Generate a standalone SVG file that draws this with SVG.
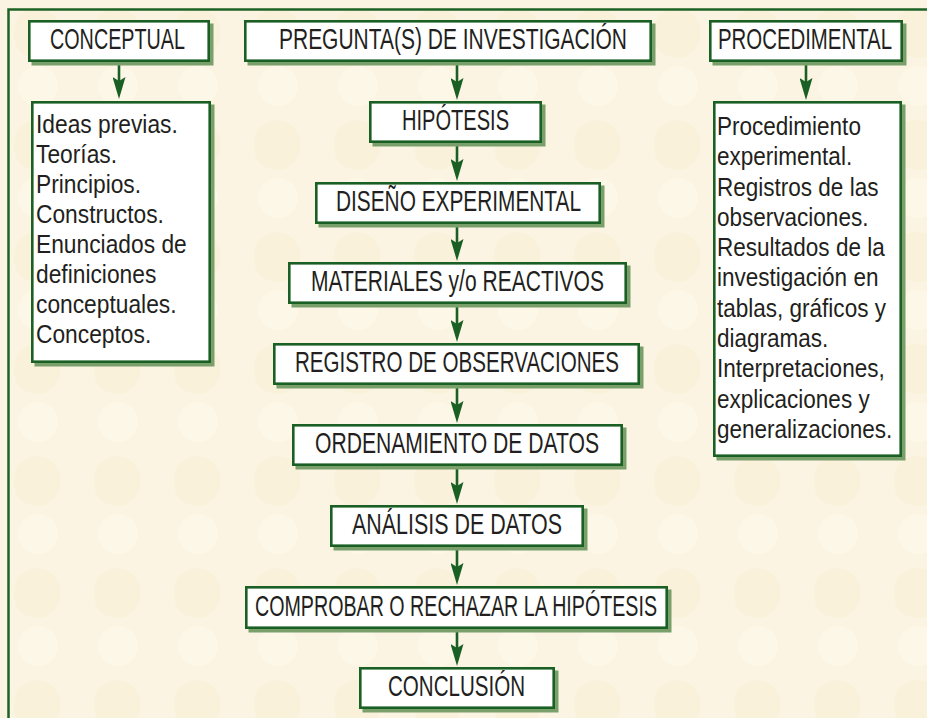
<svg xmlns="http://www.w3.org/2000/svg" width="927" height="718" viewBox="0 0 927 718">
<style>
.bg{fill:#fcf4e2}
.frame{fill:none;stroke:#1d6326;stroke-width:2.5}
.sh{fill:#79a06b}
.box{fill:#ffffff;stroke:#1a6024;stroke-width:2.6}
.t{font-family:"Liberation Sans",Arial,sans-serif;font-size:29px;fill:#231f20}
.b{font-family:"Liberation Sans",Arial,sans-serif;font-size:26.5px;fill:#231f20}
.c{stroke:#1a6024;stroke-width:2.6;fill:none}
</style>
<defs>
<marker id="ah" viewBox="0 0 22 13" markerWidth="22" markerHeight="13" refX="14" refY="6.5" orient="auto" markerUnits="userSpaceOnUse">
<path d="M0,0 L22,6.5 L0,13 L4,6.5 Z" fill="#1a6024"/>
</marker>
<pattern id="blobs" x="0" y="0" width="80" height="112" patternUnits="userSpaceOnUse">
<rect x="14" y="8" width="46" height="50" rx="22" fill="#f5e6c6" opacity="0.25"/>
<rect x="18" y="66" width="40" height="40" rx="20" fill="#fffaf0" opacity="0.35"/>
</pattern>
</defs>
<rect class="bg" x="0" y="0" width="927" height="718"/>
<rect x="0" y="0" width="927" height="718" fill="url(#blobs)"/>
<rect class="frame" x="8.5" y="9.5" width="1000" height="1000"/>

<g id="connectors">
<line class="c" x1="119" y1="62" x2="119" y2="91" marker-end="url(#ah)"/>
<line class="c" x1="806" y1="62" x2="806" y2="92" marker-end="url(#ah)"/>
<line class="c" x1="457" y1="62" x2="457" y2="92" marker-end="url(#ah)"/>
<line class="c" x1="457" y1="143" x2="457" y2="173" marker-end="url(#ah)"/>
<line class="c" x1="457" y1="224" x2="457" y2="253" marker-end="url(#ah)"/>
<line class="c" x1="457" y1="304" x2="457" y2="334" marker-end="url(#ah)"/>
<line class="c" x1="457" y1="385" x2="457" y2="415" marker-end="url(#ah)"/>
<line class="c" x1="457" y1="466" x2="457" y2="496" marker-end="url(#ah)"/>
<line class="c" x1="457" y1="547" x2="457" y2="577" marker-end="url(#ah)"/>
<line class="c" x1="457" y1="629" x2="457" y2="658" marker-end="url(#ah)"/>
</g>

<g id="conceptual">
<rect class="sh" x="31.5" y="23.5" width="182" height="42"/>
<rect class="box" x="29.3" y="21.3" width="179.4" height="39.4"/>
<text class="t" transform="translate(50 49) scale(0.68 1)" x="0" y="0" textLength="198.5" lengthAdjust="spacingAndGlyphs">CONCEPTUAL</text>
</g>

<g id="pregunta">
<rect class="sh" x="247.5" y="23.5" width="408" height="42"/>
<rect class="box" x="245.3" y="21.3" width="405.4" height="39.4"/>
<text class="t" transform="translate(279 49) scale(0.68 1)" x="0" y="0" textLength="511.8" lengthAdjust="spacingAndGlyphs">PREGUNTA(S) DE INVESTIGACIÓN</text>
</g>

<g id="procedimental">
<rect class="sh" x="712.5" y="23.5" width="194" height="42"/>
<rect class="box" x="710.3" y="21.3" width="191.4" height="39.4"/>
<text class="t" transform="translate(718 49) scale(0.68 1)" x="0" y="0" textLength="255.9" lengthAdjust="spacingAndGlyphs">PROCEDIMENTAL</text>
</g>

<g id="conceptual-list">
<rect class="sh" x="34.5" y="104.5" width="180" height="262"/>
<rect class="box" x="32.3" y="102.3" width="177.4" height="259.4"/>
<g transform="translate(36 0) scale(0.86 1)">
<text class="b" x="0" y="133"><tspan x="0">Ideas previas.</tspan><tspan x="0" dy="30">Teorías.</tspan><tspan x="0" dy="30">Principios.</tspan><tspan x="0" dy="30">Constructos.</tspan><tspan x="0" dy="30">Enunciados de</tspan><tspan x="0" dy="30">definiciones</tspan><tspan x="0" dy="30">conceptuales.</tspan><tspan x="0" dy="30">Conceptos.</tspan></text>
</g>
</g>

<g id="procedimental-list">
<rect class="sh" x="716.5" y="104.5" width="189" height="356"/>
<rect class="box" x="714.3" y="102.3" width="186.4" height="353.4"/>
<g transform="translate(717 0) scale(0.85 1)">
<text class="b" x="0" y="135"><tspan x="0">Procedimiento</tspan><tspan x="0" dy="30.3">experimental.</tspan><tspan x="0" dy="30.3">Registros de las</tspan><tspan x="0" dy="30.3">observaciones.</tspan><tspan x="0" dy="30.3">Resultados de la</tspan><tspan x="0" dy="30.3">investigación en</tspan><tspan x="0" dy="30.3">tablas, gráficos y</tspan><tspan x="0" dy="30.3">diagramas.</tspan><tspan x="0" dy="30.3">Interpretaciones,</tspan><tspan x="0" dy="30.3">explicaciones y</tspan><tspan x="0" dy="30.3">generalizaciones.</tspan></text>
</g>
</g>

<g id="hipotesis">
<rect class="sh" x="372.5" y="104.5" width="173" height="42"/>
<rect class="box" x="370.3" y="102.3" width="170.4" height="39.4"/>
<text class="t" transform="translate(402 130) scale(0.68 1)" x="0" y="0" textLength="157.4" lengthAdjust="spacingAndGlyphs">HIPÓTESIS</text>
</g>

<g id="diseno">
<rect class="sh" x="318.5" y="185.5" width="286" height="42"/>
<rect class="box" x="316.3" y="183.3" width="283.4" height="39.4"/>
<text class="t" transform="translate(336 211) scale(0.68 1)" x="0" y="0" textLength="360.3" lengthAdjust="spacingAndGlyphs">DISEÑO EXPERIMENTAL</text>
</g>

<g id="materiales">
<rect class="sh" x="291.5" y="265.5" width="339" height="42"/>
<rect class="box" x="289.3" y="263.3" width="336.4" height="39.4"/>
<text class="t" transform="translate(311 291) scale(0.68 1)" x="0" y="0" textLength="430.9" lengthAdjust="spacingAndGlyphs">MATERIALES y/o REACTIVOS</text>
</g>

<g id="registro">
<rect class="sh" x="276.5" y="346.5" width="367" height="42"/>
<rect class="box" x="274.3" y="344.3" width="364.4" height="39.4"/>
<text class="t" transform="translate(295 372) scale(0.68 1)" x="0" y="0" textLength="476.5" lengthAdjust="spacingAndGlyphs">REGISTRO DE OBSERVACIONES</text>
</g>

<g id="ordenamiento">
<rect class="sh" x="295.5" y="427.5" width="331" height="42"/>
<rect class="box" x="293.3" y="425.3" width="328.4" height="39.4"/>
<text class="t" transform="translate(315 453) scale(0.68 1)" x="0" y="0" textLength="417.6" lengthAdjust="spacingAndGlyphs">ORDENAMIENTO DE DATOS</text>
</g>

<g id="analisis">
<rect class="sh" x="333.5" y="508.5" width="254" height="42"/>
<rect class="box" x="331.3" y="506.3" width="251.4" height="39.4"/>
<text class="t" transform="translate(352 534) scale(0.68 1)" x="0" y="0" textLength="308.8" lengthAdjust="spacingAndGlyphs">ANÁLISIS DE DATOS</text>
</g>

<g id="comprobar">
<rect class="sh" x="248.5" y="589.5" width="423" height="43"/>
<rect class="box" x="246.3" y="587.3" width="420.4" height="40.4"/>
<text class="t" transform="translate(255 616) scale(0.68 1)" x="0" y="0" textLength="591.2" lengthAdjust="spacingAndGlyphs">COMPROBAR O RECHAZAR LA HIPÓTESIS</text>
</g>

<g id="conclusion">
<rect class="sh" x="362.5" y="670.5" width="196" height="42"/>
<rect class="box" x="360.3" y="668.3" width="193.4" height="39.4"/>
<text class="t" transform="translate(388 696) scale(0.68 1)" x="0" y="0" textLength="201.5" lengthAdjust="spacingAndGlyphs">CONCLUSIÓN</text>
</g>
</svg>
